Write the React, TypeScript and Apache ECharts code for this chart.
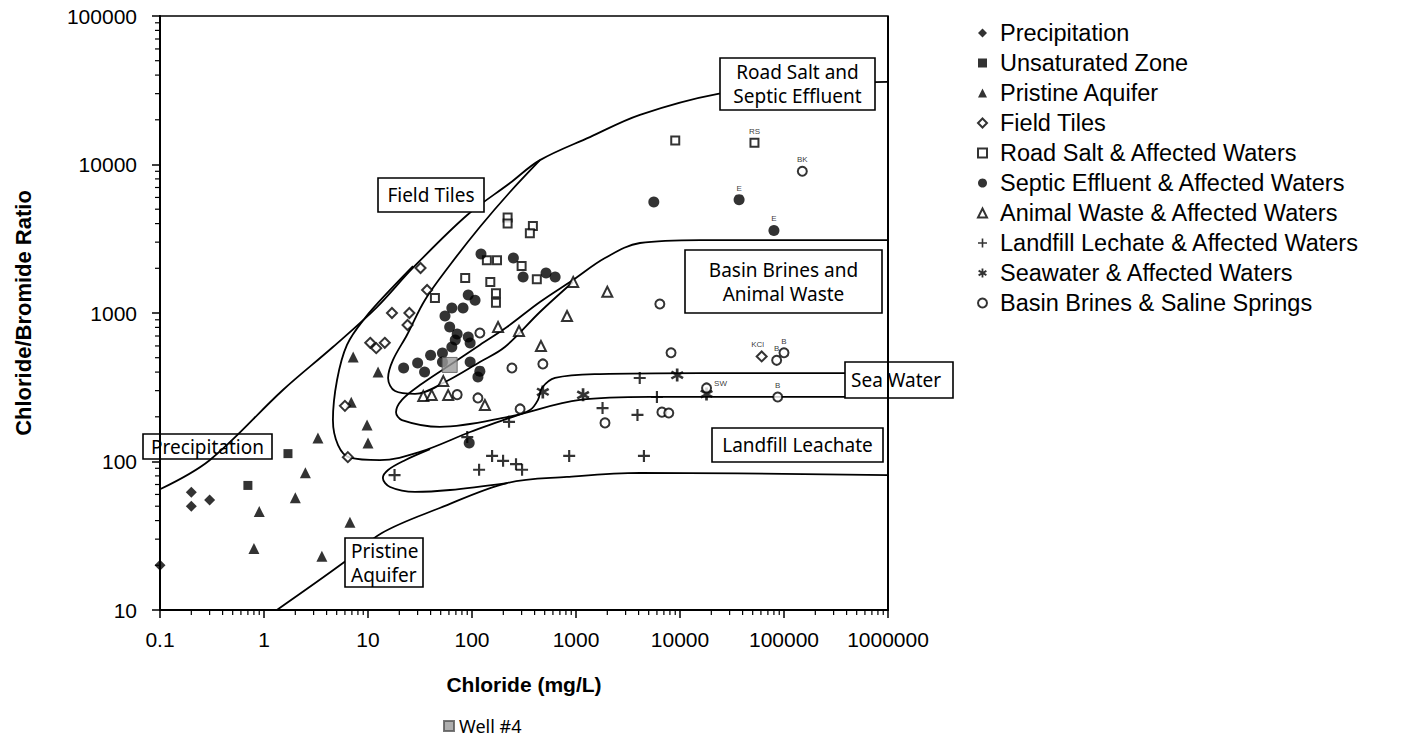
import React, { useEffect, useRef } from 'react';
import * as echarts from 'echarts';

type Pt = [number, number] | [number, number, string];

// ---------- axis tick labels ----------
const X_TICK_LABELS = ['0.1', '1', '10', '100', '1000', '10000', '100000', '1000000'];
const Y_TICK_LABELS = ['10', '100', '1000', '10000', '100000'];
const MINOR_MULTIPLIERS = [2, 3, 4, 5, 6, 7, 8, 9];
const X_DECADES = [0.1, 1, 10, 100, 1000, 10000, 100000];
const Y_DECADES = [10, 100, 1000, 10000];

// ---------- data: [chloride mg/L, Cl/Br ratio, optional tag] ----------
const precipitation: Pt[] = [[0.1, 20], [0.2, 62], [0.2, 50], [0.3, 55]];
const unsaturatedZone: Pt[] = [[1.7, 113], [0.7, 69]];
const pristineAquifer: Pt[] = [
  [7.2, 506], [12.5, 401], [9.8, 176], [10, 133], [3.3, 144], [2.5, 84], [2, 57],
  [0.9, 46], [0.8, 26], [3.6, 23], [6.7, 39], [6.9, 251],
];
const fieldTiles: Pt[] = [
  [32, 2010], [37, 1430], [17, 1000], [25, 1000], [24, 830], [10.5, 630], [12, 580],
  [14.5, 630], [6, 237], [6.4, 107], [61000, 510, 'KCl'],
];
const roadSalt: Pt[] = [
  [9000, 14500], [52000, 14000, 'RS'], [220, 4400], [220, 4000], [385, 3850], [360, 3450],
  [139, 2270], [174, 2270], [300, 2070], [420, 1690], [86, 1720], [150, 1620], [170, 1360],
  [170, 1170], [44, 1260],
];
const septicEffluent: Pt[] = [
  [122, 2500], [250, 2350], [310, 1750], [515, 1860], [630, 1750], [92, 1320], [107, 1220],
  [64, 1080], [82, 1080], [55, 955], [61, 805], [72, 722], [92, 690], [69, 658], [96, 628],
  [64, 590], [40, 520], [52, 538], [30, 460], [35, 400], [52, 468], [22, 426], [96, 468],
  [119, 406], [114, 371], [94, 133], [5600, 5600], [37000, 5800, 'E'], [80000, 3600, 'E'],
];
const animalWaste: Pt[] = [
  [940, 1620], [2000, 1390], [820, 955], [178, 805], [283, 757], [460, 600], [53, 348],
  [34, 276], [41, 280], [59, 280], [133, 240],
];
const landfill: Pt[] = [
  [4100, 365], [6000, 272], [1800, 229], [3900, 206], [227, 185], [90, 146], [156, 109],
  [199, 101], [265, 96], [303, 88], [117, 88], [860, 109], [4500, 109], [18, 81],
];
const seawater: Pt[] = [[9400, 382], [1170, 281], [480, 294], [18000, 285]];
const basinBrines: Pt[] = [
  [150000, 9000, 'BK'], [6400, 1150], [8200, 540], [85000, 480, 'B'], [100000, 540, 'B'],
  [87000, 272, 'B'], [6700, 215], [7800, 212], [1900, 182], [18000, 313, 'SW'], [242, 426],
  [480, 454], [290, 226], [119, 733], [72, 282], [114, 268],
];
const well4: Pt[] = [[61, 447]];

// ---------- envelope boundaries (chloride, ratio) ----------
const envOuterUpper: Pt[] = [
  [0.1, 65], [0.3, 102], [1.52, 303], [4.6, 590], [12.2, 1096], [27, 2010], [90, 4570],
  [232, 7500], [450, 10700], [1360, 15300], [4120, 21600], [23200, 29900], [142000, 34300],
  [1000000, 36000],
];
const envOuterLower: Pt[] = [
  [1.33, 10], [5.75, 20.7], [13.6, 33], [49, 48.6], [217, 71.6], [818, 78.7], [4120, 83.8],
  [1000000, 81],
];
const envFieldTiles: Pt[] = [
  [27.1, 2070], [16.3, 1430], [9.35, 925], [6.28, 610], [5.04, 354], [4.6, 190], [5.15, 129],
  [6.7, 106], [13, 102], [31.6, 116], [96, 158], [199, 190], [361, 222], [431, 260],
  [471, 313], [628, 365], [1700, 388], [15600, 394], [1000000, 394],
];
const envBasinBrines: Pt[] = [
  [1000000, 3100], [15600, 3100], [4120, 2960], [1900, 2345], [935, 1668], [450, 1186],
  [217, 805], [119, 610], [61.4, 447], [31.6, 327], [21.2, 260], [18.6, 215], [21.2, 190],
  [49, 171], [217, 199], [1092, 260], [5150, 272], [1000000, 272],
];
const envSeptic: Pt[] = [
  [450, 10700], [232, 6530], [119, 3793], [61.4, 2104], [35.3, 1224], [23.7, 711], [17.4, 483],
  [15.6, 365], [18.2, 298], [28.3, 285], [55, 343], [119, 468], [207, 590], [450, 1016],
  [935, 1618],
];
const envLandfill: Pt[] = [
  [39.5, 121], [22.7, 102], [15.6, 87.7], [13.9, 77.4], [16.3, 67.3], [28.3, 62.4],
  [61.4, 64.3], [217, 71.6],
];

const LEGEND_NAMES = [
  'Precipitation', 'Unsaturated Zone', 'Pristine Aquifer', 'Field Tiles',
  'Road Salt & Affected Waters', 'Septic Effluent & Affected Waters',
  'Animal Waste & Affected Waters', 'Landfill Lechate & Affected Waters',
  'Seawater & Affected Waters', 'Basin Brines & Saline Springs',
];

const PLUS = 'path://M4.1,0H5.9V4.1H10V5.9H5.9V10H4.1V5.9H0V4.1H4.1Z';
const ASTERISK =
  'path://M4,0H6V10H4Z M1.2,1.5L9.85,6.5L8.85,8.2L0.2,3.2Z M0.2,6.8L8.85,1.8L9.85,3.5L1.2,8.5Z';

const toItem = (d: Pt) => {
  if (d.length === 3 && d[2]) {
    const tag = d[2] as string;
    const label: any = {
      show: true, formatter: tag, fontSize: 8, color: '#000',
      fontFamily: 'Liberation Sans', position: 'top', distance: 2,
    };
    if (tag === 'SW') { label.position = 'right'; label.offset = [0, -4]; }
    if (tag === 'KCl') { label.offset = [-4, 0]; }
    return { value: [d[0], d[1]], label };
  }
  return [d[0], d[1]];
};

const scatter = (name: string, data: Pt[], symbol: string, size: number, filled: boolean) => ({
  type: 'scatter', name, data: data.map(toItem), symbol, symbolSize: size, z: 5,
  itemStyle: filled
    ? { color: '#000' }
    : { color: '#fff', borderColor: '#000', borderWidth: 2 },
});

const boundary = (data: Pt[]) => ({
  type: 'line', data: data.map((d) => [d[0], d[1]]), smooth: 0.35, symbol: 'none',
  silent: true, z: 3, lineStyle: { color: '#000', width: 1.8 },
});

const xMinor = X_DECADES.flatMap((d) => MINOR_MULTIPLIERS.map((m) => [m * d, 10]));
const yMinor = Y_DECADES.flatMap((d) => MINOR_MULTIPLIERS.map((m) => [0.1, m * d]));

const boxes = [
  { x: 720, y: 58, w: 155, h: 52, lines: ['Road Salt and', 'Septic Effluent'], fill: '#fff', align: 'center' },
  { x: 378, y: 178, w: 106, h: 34, lines: ['Field Tiles'], fill: '#fff', align: 'center' },
  { x: 685, y: 250, w: 197, h: 63, lines: ['Basin Brines and', 'Animal Waste'], fill: '#fff', align: 'center' },
  { x: 845, y: 362, w: 108, h: 36, lines: ['Sea Water'], fill: '#fff', align: 'left' },
  { x: 712, y: 428, w: 171, h: 34, lines: ['Landfill Leachate'], fill: '#fff', align: 'center' },
  { x: 143, y: 434, w: 129, h: 25, lines: ['Precipitation'], fill: 'none', align: 'center' },
  { x: 345, y: 538, w: 78, h: 49, lines: ['Pristine', 'Aquifer'], fill: '#fff', align: 'left' },
];

const graphicElements: any[] = [];
boxes.forEach((b) => {
  graphicElements.push({
    type: 'rect', z: 100, shape: { x: b.x, y: b.y, width: b.w, height: b.h },
    style: { fill: b.fill, stroke: '#000', lineWidth: 1.6 },
  });
  const n = b.lines.length;
  b.lines.forEach((t, i) => {
    const cy = b.y + b.h / 2 + (i - (n - 1) / 2) * 24;
    graphicElements.push({
      type: 'text', z: 101,
      style: {
        text: t,
        x: b.align === 'center' ? b.x + b.w / 2 : b.x + 6,
        y: cy,
        textAlign: b.align,
        textVerticalAlign: 'middle',
        font: '19px "Noto Sans"',
        fill: '#000',
      },
    });
  });
});
graphicElements.push({
  type: 'line', z: 102, shape: { x1: 888, y1: 16, x2: 888, y2: 610 },
  style: { stroke: '#000', lineWidth: 2 },
});

export default function App() {
  const ref = useRef<HTMLDivElement>(null);
  useEffect(() => {
    const chart = echarts.init(ref.current!, null, { renderer: 'svg' });
    const option: any = {
      animation: false,
      backgroundColor: '#fff',
      grid: {
        left: 160, top: 16, width: 728, height: 594, show: true,
        borderColor: '#000', borderWidth: 1.5, backgroundColor: 'transparent',
      },
      xAxis: {
        type: 'log', logBase: 10, min: 0.1, max: 1000000, splitNumber: 7,
        name: 'Chloride (mg/L)', nameLocation: 'middle', nameGap: 64,
        nameTextStyle: { fontFamily: 'Liberation Sans', fontWeight: 'bold', fontSize: 21, color: '#000' },
        axisLine: { lineStyle: { color: '#000', width: 2 } },
        axisTick: { show: true, length: 8, lineStyle: { color: '#000', width: 1.5 } },
        splitLine: { show: false },
        axisLabel: {
          color: '#000', fontSize: 21, fontFamily: 'Liberation Sans', margin: 19,
          formatter: (v: number) => X_TICK_LABELS[Math.round(Math.log10(v)) + 1],
        },
      },
      yAxis: {
        type: 'log', logBase: 10, min: 10, max: 100000, splitNumber: 4,
        name: 'Chloride/Bromide Ratio', nameLocation: 'middle', nameGap: 126,
        nameTextStyle: { fontFamily: 'Liberation Sans', fontWeight: 'bold', fontSize: 22, color: '#000' },
        axisLine: { lineStyle: { color: '#000', width: 2 } },
        axisTick: { show: true, length: 8, lineStyle: { color: '#000', width: 1.5 } },
        splitLine: { show: false },
        axisLabel: {
          color: '#000', fontSize: 21, fontFamily: 'Liberation Sans', margin: 23,
          formatter: (v: number) => Y_TICK_LABELS[Math.round(Math.log10(v)) - 1],
        },
      },
      legend: [
        {
          orient: 'vertical', left: 977, top: 21, padding: 0, itemWidth: 9, itemHeight: 9, itemGap: 6,
          data: LEGEND_NAMES,
          textStyle: {
            fontFamily: 'Liberation Sans', fontSize: 23.5, lineHeight: 24, color: '#000',
            padding: [0, 0, 0, 8],
          },
        },
        {
          orient: 'horizontal', left: 443, top: 717, padding: 0, itemWidth: 10, itemHeight: 10,
          data: ['Well #4'],
          textStyle: { fontFamily: 'Noto Sans', fontSize: 18, color: '#000' },
        },
      ],
      graphic: { elements: graphicElements },
      series: [
        boundary(envOuterUpper),
        boundary(envOuterLower),
        boundary(envFieldTiles),
        boundary(envBasinBrines),
        boundary(envSeptic),
        boundary(envLandfill),
        {
          type: 'custom', silent: true, data: xMinor, clip: false,
          renderItem: (_p: any, api: any) => {
            const p = api.coord([api.value(0), api.value(1)]);
            return { type: 'line', shape: { x1: p[0], y1: p[1], x2: p[0], y2: p[1] + 5 }, style: { stroke: '#000', lineWidth: 1.2 } };
          },
        },
        {
          type: 'custom', silent: true, data: yMinor, clip: false,
          renderItem: (_p: any, api: any) => {
            const p = api.coord([api.value(0), api.value(1)]);
            return { type: 'line', shape: { x1: p[0] - 5, y1: p[1], x2: p[0], y2: p[1] }, style: { stroke: '#000', lineWidth: 1.2 } };
          },
        },
        scatter('Precipitation', precipitation, 'diamond', 11, true),
        scatter('Unsaturated Zone', unsaturatedZone, 'rect', 9, true),
        scatter('Pristine Aquifer', pristineAquifer, 'triangle', 11, true),
        scatter('Field Tiles', fieldTiles, 'diamond', 10, false),
        scatter('Road Salt & Affected Waters', roadSalt, 'rect', 8, false),
        scatter('Septic Effluent & Affected Waters', septicEffluent, 'circle', 11, true),
        scatter('Animal Waste & Affected Waters', animalWaste, 'triangle', 10, false),
        scatter('Landfill Lechate & Affected Waters', landfill, PLUS, 12, true),
        scatter('Seawater & Affected Waters', seawater, ASTERISK, 13, true),
        scatter('Basin Brines & Saline Springs', basinBrines, 'circle', 9, false),
        {
          type: 'scatter', name: 'Well #4', data: well4.map(toItem), symbol: 'rect', symbolSize: 15, z: 6,
          itemStyle: { color: '#9a9a9a', borderColor: '#555', borderWidth: 1 },
        },
      ],
    };
    chart.setOption(option);
    return () => chart.dispose();
  }, []);
  return (
    <div
      ref={ref}
      style={{ position: 'absolute', left: 0, top: 0, width: 1417, height: 740, background: '#fff' }}
    />
  );
}
